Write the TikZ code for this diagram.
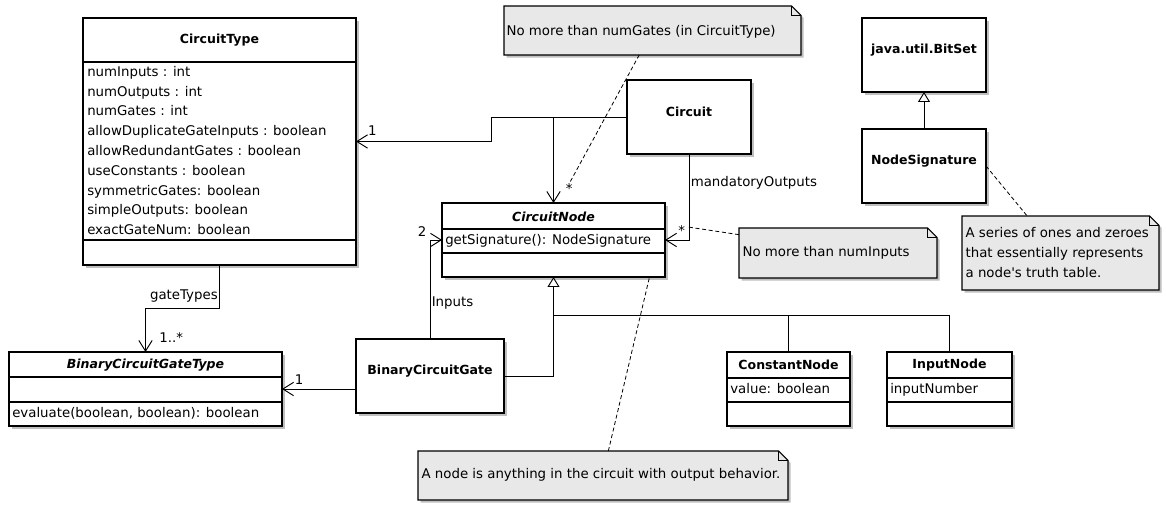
\documentclass[tikz,border=0pt]{standalone}
\usepackage{fontspec}
\setmainfont{DejaVu Sans}
\usepackage{tikz}
\usetikzlibrary{positioning}
\usetikzlibrary{arrows.meta}
\usetikzlibrary{fit}
\usetikzlibrary{shadows}
\definecolor{notegray}{RGB}{232,232,232}
\newcommand*{\umlnote}[1]{%
  \fill[black!25,transform canvas={shift={(2pt,-2pt)}}] (#1.north west) -- ([xshift=-7pt]#1.north east)
    -- ([yshift=-7pt]#1.north east) -- (#1.south east) -- (#1.south west) -- cycle;
  \filldraw[fill=notegray,line width=0.8pt] (#1.north west) -- ([xshift=-7pt]#1.north east)
    -- ([yshift=-7pt]#1.north east) -- (#1.south east) -- (#1.south west) -- cycle;
  \draw[line width=0.6pt] ([xshift=-7pt]#1.north east) |- ([yshift=-7pt]#1.north east);}

\begin{document}
\begin{tikzpicture}[x=0.75pt,y=-0.75pt]
        \tikzset{cls/.style={draw,fill=white,line width=0.8pt,inner sep=0pt,outer sep=0pt,
                   general shadow={fill=black!25,shadow xshift=2pt,shadow yshift=-2pt}},
                 clsname/.style={font=\fontsize{9.4}{11}\selectfont\bfseries},
                 abstract/.style={font=\fontsize{9.4}{11}\selectfont\bfseries\itshape},
                 member/.style={anchor=west,inner sep=0pt,font=\fontsize{10}{12}\selectfont,
                   text height=7.5pt,text depth=2pt},
                 lbl/.style={font=\fontsize{10}{15}\selectfont,inner sep=1pt},
                 divider/.style={line width=0.8pt},
                 notearea/.style={inner sep=0pt,outer sep=0pt},
                 assoc/.style={-{Straight Barb[length=8pt,width=10pt]},line width=0.7pt},
                 inherit/.style={-{Triangle[open,length=7.5pt,width=9pt,fill=white]},line width=0.7pt},
                 noteline/.style={dash pattern=on 3pt off 2pt,line width=0.6pt}}

        \useasboundingbox (0,0) rectangle (1166,505);

        \node[cls,fit={(83,18) (356,265)}] (ct) {};
        \node[clsname] (ct-name) at (219.5,40) {CircuitType};
        \draw[divider] (ct.west |- 0,62) -- (ct.east |- 0,62);
        \draw[divider] (ct.west |- 0,240) -- (ct.east |- 0,240);
        \foreach \attr [count=\i] in {numInputs : int, numOutputs : int, numGates : int,
            allowDuplicateGateInputs : boolean, allowRedundantGates : boolean,
            useConstants : boolean, symmetricGates: boolean, simpleOutputs: boolean,
            exactGateNum: boolean}
          \node[member] (ct-attr\i) at (87,{52.9+19.8*\i}) {\attr};

        \node[cls,clsname,fit={(627,80) (751,154)}] (circ) {Circuit};

        \node[cls,fit={(442,203) (665,277)}] (cn) {};
        \node[abstract] (cn-name) at (553.5,217) {CircuitNode};
        \draw[divider] (cn.west |- 0,229) -- (cn.east |- 0,229);
        \draw[divider] (cn.west |- 0,253) -- (cn.east |- 0,253);
        \node[member] (cn-op) at (445,241) {getSignature(): NodeSignature};

        \node[cls,clsname,fit={(356,339) (504,413)}] (bcg) {BinaryCircuitGate};

        \node[cls,fit={(9,352) (282,426)}] (bcgt) {};
        \node[abstract] (bcgt-name) at (145.5,365) {BinaryCircuitGateType};
        \draw[divider] (bcgt.west |- 0,377) -- (bcgt.east |- 0,377);
        \draw[divider] (bcgt.west |- 0,402) -- (bcgt.east |- 0,402);
        \node[member] (bcgt-op) at (12,414) {evaluate(boolean, boolean): boolean};

        \node[cls,fit={(727,352) (850,426)}] (const) {};
        \node[clsname] (const-name) at (788.5,365) {ConstantNode};
        \draw[divider] (const.west |- 0,378) -- (const.east |- 0,378);
        \draw[divider] (const.west |- 0,402) -- (const.east |- 0,402);
        \node[member] (const-attr) at (730,390) {value: boolean};

        \node[cls,fit={(887,352) (1012,426)}] (inp) {};
        \node[clsname] (inp-name) at (949.5,365) {InputNode};
        \draw[divider] (inp.west |- 0,378) -- (inp.east |- 0,378);
        \draw[divider] (inp.west |- 0,402) -- (inp.east |- 0,402);
        \node[member] (inp-attr) at (890,390) {inputNumber};

        \node[cls,clsname,fit={(862,18) (986,92)}] (bitset) {java.util.BitSet};
        \node[cls,clsname,fit={(862,129) (986,203)}] (ns) {NodeSignature};

        \node[notearea,fit={(504,6) (801,55)}] (n-gates) {};
        \umlnote{n-gates}
        \node[lbl,anchor=west] (n-gates-text) at (505,32) {No more than numGates (in CircuitType)};

        \node[notearea,fit={(739,228) (937,278)}] (n-inputs) {};
        \umlnote{n-inputs}
        \node[lbl,anchor=west] (n-inputs-text) at (741,253) {No more than numInputs};

        \node[notearea,fit={(962,216) (1159,290)}] (n-sig) {};
        \umlnote{n-sig}
        \node[lbl,anchor=west,align=left] (n-sig-text) at (964,253)
          {A series of ones and zeroes\\that essentially represents\\a node\textquotesingle s truth table.};

        \node[notearea,fit={(418,451) (788,500)}] (n-node) {};
        \umlnote{n-node}
        \node[lbl,anchor=west] (n-node-text) at (420,475) {A node is anything in the circuit with output behavior.};

        \draw[assoc] (circ.west) -- ++(-135.5,0) |- (ct.east)
          node[lbl,pos=0.94,above=3pt] (ct-mult) {1};
        \draw[assoc] (circ.west -| cn.north) -- (cn.north)
          node[lbl,pos=0.83,right=8pt] (cn-mult) {*};
        \draw[assoc] (circ.south) |- (cn.east)
          node[lbl,pos=0.17,right] (out-role) {mandatoryOutputs}
          node[lbl,pos=0.65,above=2pt] (out-mult) {*};
        \draw[assoc] (bcg.north) |- (cn.west)
          node[lbl,pos=0.18,right] (in-role) {Inputs}
          node[lbl,pos=0.5,above left=2pt] (in-mult) {2};
        \draw[assoc] (ct.south) -- ++(0,43) node[lbl,pos=0.72,left] (gt-role) {gateTypes}
          -| (bcgt.north) node[lbl,pos=0.84,right=9pt] (gt-mult) {1..*};
        \draw[assoc] (bcg.west |- bcgt.east) -- (bcgt.east)
          node[lbl,pos=0.77,above=2pt] (bt-mult) {1};

        \coordinate (hier) at (553.5,315);
        \draw[inherit] (bcg.east) -| (cn.south);
        \draw[line width=0.7pt] (const.north) |- (hier);
        \draw[line width=0.7pt] (inp.north) |- (hier);
        \draw[inherit] (ns.north) -- (bitset.south);

        \coordinate (n-gates-tip) at (569,184);
        \coordinate (n-inputs-tip) at (688,227);
        \draw[noteline] ([xshift=-10pt]n-gates.south) -- (n-gates-tip);
        \draw[noteline] ([yshift=-5pt]n-inputs.north west) -- (n-inputs-tip);
        \draw[noteline] (ns.east) -- ([xshift=-25pt]n-sig.north);
        \draw[noteline] ([xshift=4pt]n-node.north) -- ([xshift=72pt]cn.south);
    \end{tikzpicture}
\end{document}
